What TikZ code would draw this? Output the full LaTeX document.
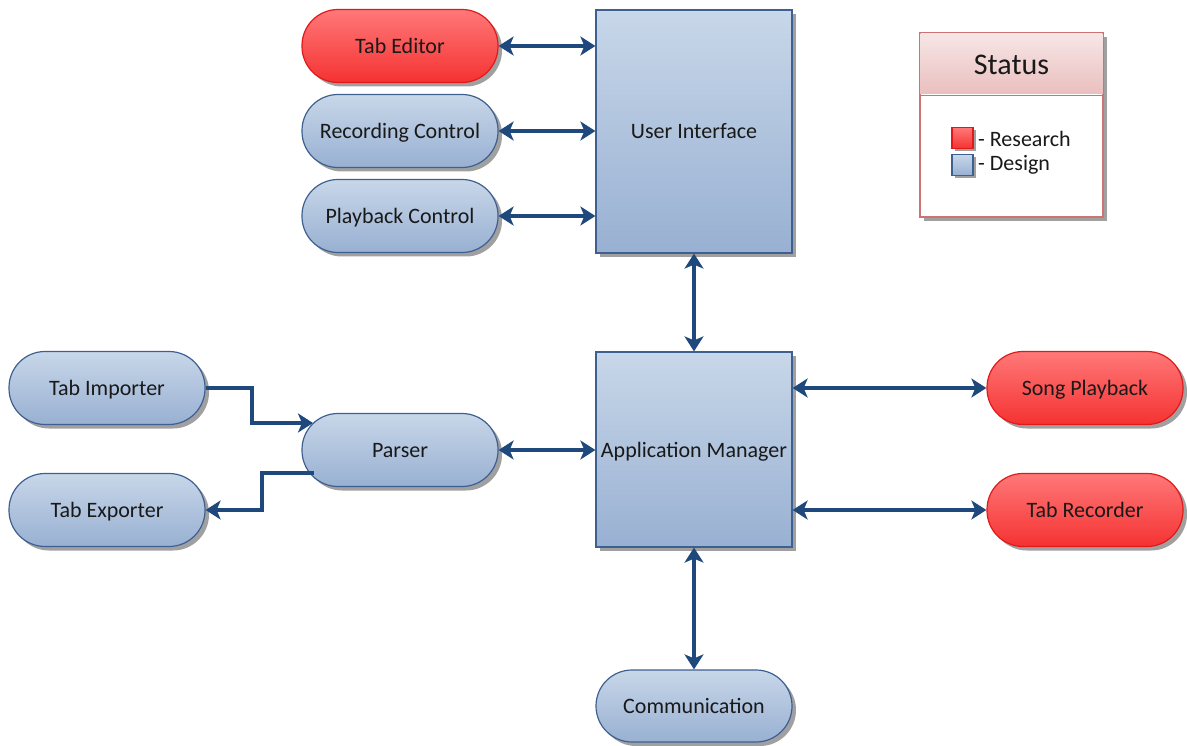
\documentclass[tikz,border=0pt]{standalone}
\usepackage{fontspec}
\setmainfont{Carlito}
\usetikzlibrary{arrows.meta,shadows}

\definecolor{txt}{RGB}{25,25,25}
\definecolor{bluetop}{RGB}{200,215,233}
\definecolor{blubot}{RGB}{152,176,210}
\definecolor{bluedge}{RGB}{62,96,145}
\definecolor{redtop}{RGB}{255,120,120}
\definecolor{redbot}{RGB}{245,50,50}
\definecolor{rededge}{RGB}{225,25,25}
\definecolor{shad}{RGB}{160,160,160}
\definecolor{arrowc}{RGB}{31,73,125}
\definecolor{legedge}{RGB}{205,115,115}
\definecolor{legtop}{RGB}{247,230,230}
\definecolor{legbot}{RGB}{234,190,190}

\begin{document}
\begin{tikzpicture}[x=1pt,y=-1pt,
  every node/.style={font=\fontsize{22}{26}\selectfont, text=txt},
  shade3d/.style={drop shadow={shadow xshift=4pt, shadow yshift=-4pt, fill=shad, opacity=1}},
  pill/.style={rectangle, rounded corners=36pt, minimum width=196pt, minimum height=73pt,
    draw=bluedge, line width=1.2pt, top color=bluetop, bottom color=blubot, shade3d,
    text height=16pt, text depth=1pt},
  redpill/.style={pill, draw=rededge, top color=redtop, bottom color=redbot},
  block/.style={rectangle, minimum width=196pt, draw=bluedge, line width=1.2pt,
    top color=bluetop, bottom color=blubot, shade3d, text height=16pt, text depth=1pt},
  link/.style={draw=arrowc, line width=4pt, {Stealth[length=15pt, width=19pt, inset=4pt]}-{Stealth[length=15pt, width=19pt, inset=4pt]}},
  onelink/.style={draw=arrowc, line width=4pt, -{Stealth[length=15pt, width=19pt, inset=4pt]}},
]
\useasboundingbox (0,0) rectangle (1187,746);

% components
\node[redpill] (editor) at (400,46) {Tab Editor};
\node[pill] (rec) at (400,131) {Recording Control};
\node[pill] (play) at (400,216) {Playback Control};
\node[block, minimum height=243pt] (ui) at (694,131.5) {User Interface};
\node[block, minimum height=195pt] (am) at (694,449.5) {Application Manager};
\node[pill] (imp) at (107,388) {Tab Importer};
\node[pill] (exp) at (107,510) {Tab Exporter};
\node[pill] (parser) at (400,450) {Parser};
\node[redpill] (song) at (1085,388) {Song Playback};
\node[redpill] (trec) at (1085,510) {Tab Recorder};
\node[pill, minimum height=72pt] (comm) at (694,706) {Communication};

% connectors
\draw[link] (editor.east) -- (ui.west |- editor.east);
\draw[link] (rec.east) -- (ui.west |- rec.east);
\draw[link] (play.east) -- (ui.west |- play.east);
\draw[link] (ui.south) -- (am.north);
\draw[link] (parser.east) -- (am.west |- parser.east);
\draw[link] (am.east |- song.west) -- (song.west);
\draw[link] (am.east |- trec.west) -- (trec.west);
\draw[link] (am.south) -- (comm.north);

\coordinate (pin) at (313,423);
\coordinate (pout) at (314,473);
\draw[onelink, line join=miter] (imp.east) -- (252,388) -- (252,423) -- (pin);
\draw[onelink, line join=miter] (pout) -- (262,473) -- (262,510) -- (exp.east);

% status legend
\node[rectangle, minimum width=183pt, minimum height=184pt, draw=legedge, line width=1.2pt,
  fill=white, shade3d] (legend) at (1011.5,125) {};
\path[top color=legtop, bottom color=legbot] (920.6,33.6) rectangle (1102.4,95);
\draw[legedge, line width=1.2pt] (legend.north west) rectangle (legend.north east |- 0,95);
\draw[white, line width=1pt] (921.2,95) -- (1101.8,95);
\node[font=\fontsize{30}{34}\selectfont] (title) at (1011.5,65) {Status};
\node[rectangle, minimum size=21pt, inner sep=0pt, draw=rededge, line width=1.2pt,
  top color=redtop, bottom color=redbot,
  drop shadow={shadow xshift=3pt, shadow yshift=-3pt, fill=shad, opacity=1}] (kred) at (962.5,138) {};
\node[rectangle, minimum size=21pt, inner sep=0pt, draw=bluedge, line width=1.2pt,
  top color=bluetop, bottom color=blubot,
  drop shadow={shadow xshift=3pt, shadow yshift=-3pt, fill=shad, opacity=1}] (kblue) at (962.5,165) {};
\node[anchor=west, inner sep=0pt] (lres) at (978,139) {- Research};
\node[anchor=west, inner sep=0pt] (ldes) at (978,165) {- Design};
\end{tikzpicture}
\end{document}
